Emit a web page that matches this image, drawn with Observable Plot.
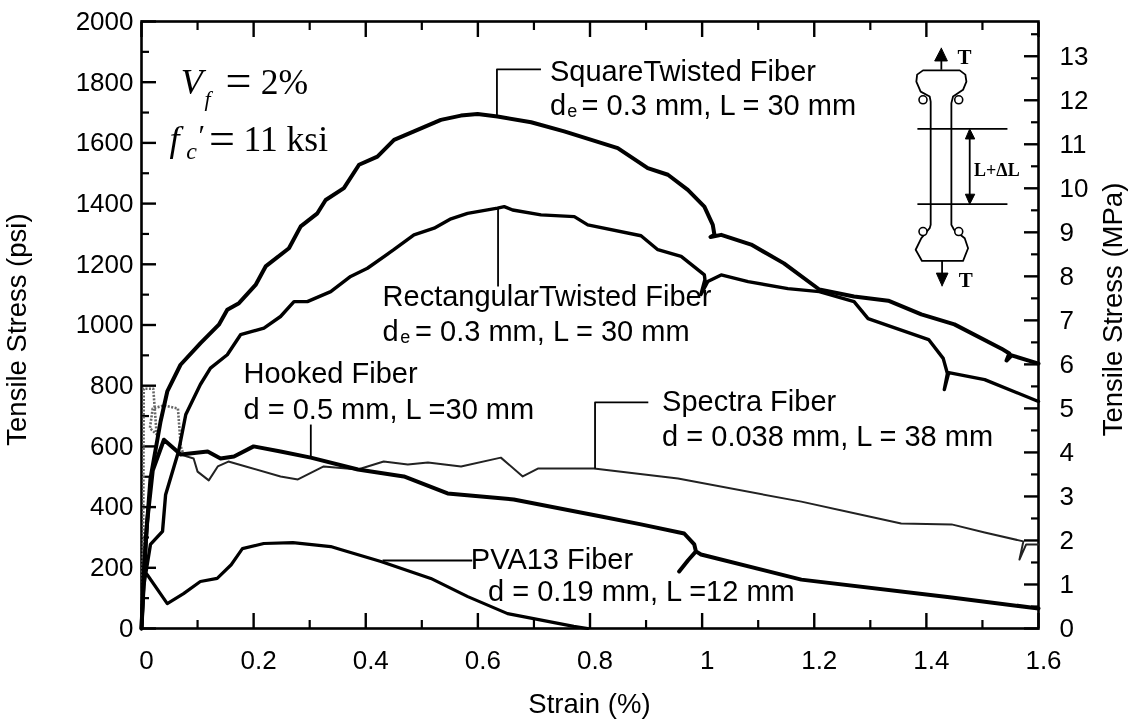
<!DOCTYPE html>
<html><head><meta charset="utf-8">
<script src="https://cdn.jsdelivr.net/npm/d3@7"></script>
<script src="https://cdn.jsdelivr.net/npm/@observablehq/plot@0.6"></script>
<style>html,body{margin:0;padding:0;background:#fff}svg{display:block;filter:blur(0.35px)}</style>
</head><body><div id="chart"></div>
<script>
// Curves: strain (%), tensile stress (psi)
const squareX=[0,.004,.008,.016,.034,.046,.0696,.1053,.138,.153,.1738,.2035,.2214,.263,.284,.3137,.3285,.361,.388,.4208,.4505,.486,.534,.5697,.5995,.635,.695,.754,.8495,.903,.939,.9745,1.004,1.019,1.022,1.015,1.034,1.0875,1.146,1.209,1.271,1.332,1.391,1.45,1.534,1.548,1.543,1.552,1.6];
const squareY=[0,150,300,494,682,781,869,940,1001,1050,1072,1132,1193,1253,1325,1368,1412,1451,1528,1555,1610,1638,1676,1690,1695,1687,1668,1638,1583,1517,1495,1445,1390,1330,1297,1290,1297,1265,1203,1117,1094,1080,1035,1002,922,906,883,900,873];
const rectX=[0,.004,.016,.0375,.043,.066,.079,.105,.123,.153,.1767,.2184,.248,.272,.2958,.3375,.373,.403,.45,.486,.522,.552,.5816,.635,.647,.662,.7126,.772,.796,.891,.921,.9626,1.004,1.005,.9977,1.01,1.034,1.082,1.153,1.209,1.271,1.296,1.404,1.43,1.4375,1.432,1.44,1.504,1.6];
const rectY=[0,140,277,320,441,583,705,804,858,902,968,990,1028,1077,1077,1110,1160,1187,1248,1297,1319,1350,1368,1385,1390,1379,1363,1357,1330,1294,1248,1226,1165,1150,1100,1143,1165,1143,1120,1110,1077,1021,952,890,840,787,843,820,748];
const hookedX=[0,.004,.01,.02,.04,.07,.118,.141,.165,.2,.248,.302,.386,.468,.546,.664,.82,.891,.968,.986,.989,.975,.959,.975,.989,.998,1.177,1.445,1.6];
const hookedY=[0,180,350,520,622,573,583,560,567,600,583,563,524,501,445,425,369,343,313,277,254,225,188,225,254,244,161,102,66];
const spectraEarlyX=[0,.003,.004,.021,.027,.015,.02,.04,.065,.07,.075];
const spectraEarlyY=[0,300,790,790,640,660,725,735,725,600,573];
const spectraX=[.07,.093,.1,.12,.136,.155,.186,.248,.279,.325,.386,.432,.475,.511,.57,.641,.68,.707,.807,.957,1.177,1.355,1.445,1.504,1.573,1.566,1.578,1.6];
const spectraY=[573,560,517,488,534,550,534,501,491,534,524,550,540,547,534,563,501,527,527,494,418,346,343,316,287,227,277,277];
const pvaX=[0,.004,.01,.046,.075,.105,.135,.16,.18,.218,.27,.3375,.355,.427,.516,.582,.653,.771,.796];
const pvaY=[0,190,178,82,115,155,165,210,263,280,283,270,260,221,165,105,49,7,0];

// Axis ticks
const xMajor=[0,.2,.4,.6,.8,1,1.2,1.4,1.6];
const xMinor=[.1,.3,.5,.7,.9,1.1,1.3,1.5];
const yMajor=[0,200,400,600,800,1000,1200,1400,1600,1800,2000];
const yMinor=[100,300,500,700,900,1100,1300,1500,1700,1900];
const psiPerMPa=145.04;
const mpaMajor=[0,1,2,3,4,5,6,7,8,9,10,11,12,13];
const mpaMinor=[.5,1.5,2.5,3.5,4.5,5.5,6.5,7.5,8.5,9.5,10.5,11.5,12.5,13.5];

// Leader lines
const leaders=[
 {x:[.634,.634,.7125],y:[1690,1842,1842]},
 {x:[.636,.636],y:[1384,1127]},
 {x:[.302,.302],y:[672,563]},
 {x:[.809,.809,.904],y:[527,745,745]},
 {x:[.43,.59],y:[224,224]}
];

// Text
const sansLabels=[
 {t:"SquareTwisted Fiber",x:.7286,y:1835},
 {t:"d",x:.7286,y:1723},{t:"= 0.3 mm, L = 30 mm",x:.785,y:1723},
 {t:"RectangularTwisted Fiber",x:.43,y:1094},
 {t:"d",x:.43,y:979},{t:"= 0.3 mm, L = 30 mm",x:.488,y:979},
 {t:"Hooked Fiber",x:.182,y:840},
 {t:"d = 0.5 mm, L =30 mm",x:.182,y:722},
 {t:"Spectra Fiber",x:.9286,y:748},
 {t:"d = 0.038 mm, L = 38 mm",x:.9286,y:633},
 {t:"PVA13 Fiber",x:.5875,y:227},
 {t:"d = 0.19 mm, L =12 mm",x:.618,y:122}
];
const subLabels=[{t:"e",x:.7596,y:1703},{t:"e",x:.4615,y:959}];
const axisTitles=[
 {t:"Tensile Stress (psi)",x:-.221,y:985},
 {t:"Tensile Stress (MPa)",x:1.734,y:1051}
];
const mathItalic=[{t:"V",x:.07,y:1800,s:36},{t:"f",x:.1125,y:1745,s:22},{t:"f",x:.05,y:1610,s:36},{t:"c",x:.08,y:1572,s:24}];
const mathEquals=[{t:"=",x:.1500,y:1803},{t:"=",x:.1205,y:1612}];
const mathPlain=[{t:"2%",x:.2125,y:1800},{t:"11 ksi",x:.182,y:1610}];
const mathPrime=[{t:"′",x:.1015,y:1625}];

// Specimen inset
const insetX=[1.4077,1.4059,1.3898,1.3821,1.3835,1.394,1.4595,1.4695,1.4714,1.4654,1.4476,1.4446,1.4446,1.4494,1.4684,1.4744,1.4654,1.3922,1.3809,1.391,1.4059,1.4077,1.4077];
const insetY=[1736,1753,1769,1802,1825,1839,1839,1825,1802,1775,1753,1731,1330,1314,1286,1253,1211,1211,1248,1286,1319,1330,1736];
const insetDotX=[1.394,1.4577,1.394,1.4577];
const insetDotY=[1742,1742,1308,1308];
const insetLines=[
 {x:[1.384,1.5446],y:[1646,1646]},{x:[1.384,1.5446],y:[1398,1398]},
 {x:[1.4773,1.4773],y:[1620,1425]},{x:[1.4267,1.4267],y:[1841,1879]},{x:[1.428,1.428],y:[1211,1165]}
];
const insetHeads=[
 {x:[1.4773,1.4696,1.4863,1.4773],y:[1646,1613,1613,1646]},
 {x:[1.4773,1.4696,1.4863,1.4773],y:[1398,1431,1431,1398]},
 {x:[1.4267,1.4148,1.4375,1.4267],y:[1912,1870,1870,1912]},
 {x:[1.428,1.4178,1.4386,1.428],y:[1129,1171,1171,1129]}
];
const insetT=[{t:"T",x:1.4553,y:1881},{t:"T",x:1.4577,y:1146}];
const insetL=[{t:"L+ΔL",x:1.4851,y:1511}];

const zip=(xs,ys)=>xs.map((x,i)=>({x,y:ys[i]}));
const path=(xs,ys,o)=>Plot.line(zip(xs,ys),{x:"x",y:"y",strokeLinejoin:"round",strokeLinecap:"round",stroke:"black",...o});
const SANS="Liberation Sans, Arial, sans-serif", SERIF="Liberation Serif, Times New Roman, serif";
const FS=26;
const txt=(d,o)=>Plot.text(d,{x:"x",y:"y",text:"t",fill:"black",textAnchor:"start",lineAnchor:"middle",fontFamily:SANS,fontSize:FS,...o});

const tickOpts={tickSize:-15,text:null,strokeWidth:2.4,label:null};
const minorOpts={tickSize:-8,text:null,strokeWidth:2.2,label:null};
const labelOpts={tickSize:0,label:null,fontSize:FS};

const chart=Plot.plot({
 width:1129,height:722,marginLeft:141,marginRight:91,marginTop:21,marginBottom:94,
 style:{fontFamily:SANS,fontSize:FS+"px",color:"black",background:"white",overflow:"visible"},
 x:{domain:[0,1.6]},y:{domain:[0,2000]},
 marks:[
  Plot.axisX({...labelOpts,ticks:xMajor,tickPadding:22,dx:5,anchor:"bottom",tickFormat:d=>d===0?"0":d===1?"1":String(d)}),
  Plot.axisY({...labelOpts,ticks:yMajor,tickPadding:8,anchor:"left",tickFormat:d=>String(d)}),
  Plot.axisY({...labelOpts,ticks:mpaMajor.map(d=>d*psiPerMPa),tickPadding:21,anchor:"right",tickFormat:d=>String(Math.round(d/psiPerMPa))}),
  Plot.axisX({...tickOpts,ticks:xMajor,anchor:"bottom"}),Plot.axisX({...tickOpts,ticks:xMajor,anchor:"top"}),
  Plot.axisX({...minorOpts,ticks:xMinor,anchor:"bottom"}),Plot.axisX({...minorOpts,ticks:xMinor,anchor:"top"}),
  Plot.axisY({...tickOpts,ticks:yMajor,anchor:"left"}),Plot.axisY({...minorOpts,ticks:yMinor,anchor:"left"}),
  Plot.axisY({...tickOpts,ticks:mpaMajor.map(d=>d*psiPerMPa),anchor:"right"}),
  Plot.axisY({...minorOpts,ticks:mpaMinor.map(d=>d*psiPerMPa),anchor:"right"}),
  Plot.frame({stroke:"black",strokeWidth:2.6}),
  path(spectraEarlyX,spectraEarlyY,{stroke:"#666",strokeWidth:2.6,strokeDasharray:"2 1.5",strokeLinecap:"butt"}),
  path(spectraX,spectraY,{stroke:"#222",strokeWidth:2}),
  path(pvaX,pvaY,{strokeWidth:3.2}),
  path(rectX,rectY,{strokeWidth:3.4}),
  path(hookedX,hookedY,{strokeWidth:4}),
  path(squareX,squareY,{strokeWidth:4}),
  ...leaders.map(l=>path(l.x,l.y,{strokeWidth:1.8,strokeLinecap:"butt"})),
  ...insetLines.map(l=>path(l.x,l.y,{strokeWidth:1.8,strokeLinecap:"butt"})),
  path(insetX,insetY,{strokeWidth:1.8}),
  ...insetHeads.map(l=>path(l.x,l.y,{fill:"black",strokeWidth:1})),
  Plot.dot(zip(insetDotX,insetDotY),{x:"x",y:"y",r:4,stroke:"black",strokeWidth:1.6,fill:"white"}),
  txt(sansLabels,{fontSize:29}),
  txt(subLabels,{fontSize:18}),
  txt(axisTitles,{rotate:-90,textAnchor:"middle",fontSize:27.5}),
  txt([{t:"Strain (%)",x:.799,y:-250}],{textAnchor:"middle",fontSize:27.5}),
  txt(mathItalic,{fontFamily:SERIF,fontStyle:"italic",fontSize:d=>d.s}),
  txt(mathEquals,{fontFamily:SERIF,fontSize:46}),
  txt(mathPlain,{fontFamily:SERIF,fontSize:35.5}),
  txt(mathPrime,{fontFamily:SERIF,fontSize:30}),
  txt(insetT,{fontFamily:SERIF,fontWeight:"bold",fontSize:21}),
  txt(insetL,{fontFamily:SERIF,fontWeight:"bold",fontSize:18})
 ]
});
document.getElementById("chart").append(chart);
</script></body></html>
